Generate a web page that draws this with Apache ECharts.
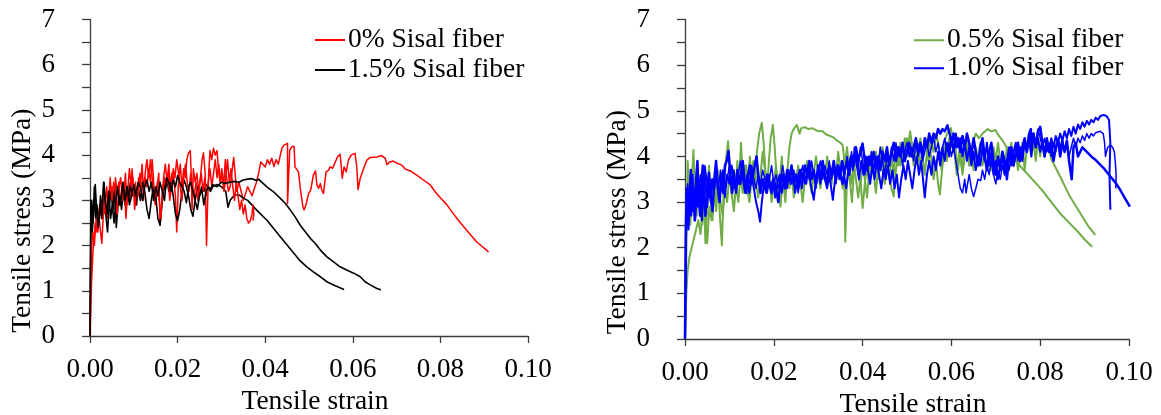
<!DOCTYPE html>
<html>
<head>
<meta charset="utf-8">
<script src="https://cdn.jsdelivr.net/npm/echarts@6/dist/echarts.min.js"></script>
<style>
  html, body { margin: 0; padding: 0; background: #fff; }
  #chart { width: 1161px; height: 415px; }
</style>
</head>
<body>
<div id="chart"></div>
<script>
// Axis titles and legend labels
const strainTitle = 'Tensile strain';
const stressTitle = 'Tensile stress (MPa)';
const leftLegend = ['0% Sisal fiber', '1.5% Sisal fiber'];
const rightLegend = ['0.5% Sisal fiber', '1.0% Sisal fiber'];

// Specimen curves, [strain, stress (MPa)]
// 0% sisal fiber
const plain0A = [[0,0],[0.0004,1.3],[0.0008,2.1],[0.0012,2.5],[0.0016,2.3],[0.002,2.7],[0.0023,2.4],[0.0027,2.05],[0.0031,2.8],[0.0035,3.0],[0.0039,2.6],[0.0043,3.2],[0.0046,3.1],[0.005,3.3],[0.0054,2.8],[0.0058,3.5],[0.0062,3.2],[0.0066,3.4],[0.0069,2.9],[0.0073,3.3],[0.0077,3.1],[0.0081,3.6],[0.0084,2.9],[0.0088,3.3],[0.0092,3.0],[0.0096,3.7],[0.010,3.1],[0.0104,3.4],[0.0107,2.9],[0.0111,3.5],[0.0115,3.3],[0.0119,3.8],[0.0122,3.2],[0.0126,3.6],[0.013,3.9],[0.0134,3.5],[0.0138,3.9],[0.0141,3.6],[0.0145,3.2],[0.0149,2.9],[0.0153,3.3],[0.0157,3.6],[0.016,2.45],[0.0164,3.0],[0.0168,3.5],[0.0172,3.8],[0.0176,3.4],[0.018,3.8],[0.0183,3.3],[0.0187,3.6],[0.0191,3.5],[0.0195,3.1],[0.0198,2.3],[0.0202,3.4],[0.0206,3.8],[0.021,3.3],[0.0214,3.7],[0.0218,3.5],[0.0221,3.9],[0.0225,4.05],[0.0229,4.1],[0.0231,3.6],[0.0233,2.8],[0.0236,3.7],[0.024,3.4],[0.0244,3.6],[0.0248,3.2],[0.0252,3.5],[0.0256,3.9],[0.0259,4.05],[0.0263,3.6],[0.0266,2.0],[0.0269,3.1],[0.0271,3.6],[0.0274,4.1],[0.0278,3.9],[0.0282,4.15],[0.0286,4.0],[0.029,4.1],[0.0294,3.6],[0.0297,3.4],[0.0301,3.7],[0.0305,3.3],[0.0309,3.9],[0.0312,3.5],[0.0316,3.2],[0.032,3.3],[0.0328,3.95],[0.0335,3.2],[0.034,3.4],[0.035,3.0],[0.036,3.3],[0.037,3.1],[0.038,3.4],[0.0385,3.6],[0.039,3.85],[0.040,3.74],[0.0405,3.9],[0.041,3.8],[0.0415,3.93],[0.042,3.75],[0.0425,3.9],[0.043,3.8],[0.0434,3.78],[0.0438,4.15],[0.0443,4.22],[0.0451,4.26],[0.0451,2.93],[0.0456,4.11],[0.0461,4.19],[0.0466,4.19],[0.0468,3.74],[0.0472,3.78],[0.0476,3.63],[0.048,3.27],[0.0486,2.86],[0.0489,2.79],[0.0494,2.93],[0.0499,3.15],[0.0504,3.23],[0.051,3.56],[0.0515,3.65],[0.0518,3.34],[0.0522,3.27],[0.0526,3.37],[0.0529,3.23],[0.0533,3.15],[0.0539,3.63],[0.0545,3.67],[0.0548,3.74],[0.0554,3.71],[0.056,3.85],[0.0565,3.96],[0.0571,4.02],[0.0576,3.49],[0.058,3.74],[0.0585,3.63],[0.059,3.89],[0.0596,4.0],[0.0605,4.04],[0.0609,3.74],[0.0612,3.24],[0.0617,3.49],[0.0621,3.52],[0.0626,3.74],[0.0632,3.89],[0.064,3.95],[0.0655,3.96],[0.0666,3.99],[0.0674,3.93],[0.0678,3.79],[0.0684,3.85],[0.0693,3.87],[0.0701,3.82],[0.0712,3.78],[0.072,3.69],[0.0731,3.65],[0.0746,3.56],[0.0761,3.45],[0.0777,3.34],[0.0788,3.19],[0.0799,3.07],[0.0815,2.90],[0.0826,2.75],[0.0841,2.56],[0.086,2.34],[0.0883,2.08],[0.091,1.86]];
const plain0B = [[0,0],[0.0003,1.9],[0.0006,2.3],[0.001,2.0],[0.0014,2.6],[0.0018,2.3],[0.0022,2.9],[0.0026,2.6],[0.003,3.1],[0.0034,2.7],[0.0038,3.3],[0.0042,2.9],[0.0046,3.5],[0.005,3.0],[0.0054,3.4],[0.0058,3.2],[0.0062,2.7],[0.0066,3.3],[0.007,3.5],[0.0074,3.0],[0.0078,3.4],[0.0082,2.6],[0.0086,3.2],[0.009,3.7],[0.0094,3.3],[0.0098,3.5],[0.0102,2.8],[0.0106,3.3],[0.011,3.1],[0.0114,3.6],[0.0118,3.2],[0.0122,3.0],[0.0126,3.5],[0.013,3.3],[0.0134,3.7],[0.0138,3.4],[0.0142,3.9],[0.0146,3.3],[0.015,3.1],[0.0154,3.4],[0.0158,3.0],[0.0162,2.6],[0.0166,3.2],[0.017,3.5],[0.0174,3.3],[0.0178,3.6],[0.0182,3.0],[0.0186,3.3],[0.019,3.7],[0.0194,3.5],[0.0198,3.9],[0.0202,3.6],[0.0206,3.3],[0.021,3.0],[0.0214,3.5],[0.0218,3.8],[0.0222,3.4],[0.0226,3.2],[0.023,3.6],[0.0234,3.3],[0.0238,3.1],[0.0242,3.4],[0.0246,3.0],[0.025,3.3],[0.0254,3.6],[0.0258,3.2],[0.0262,3.5],[0.0266,3.1],[0.027,3.4],[0.0274,3.7],[0.0278,3.3],[0.0282,3.6],[0.0286,3.9],[0.029,3.5],[0.0294,3.8],[0.0298,3.4],[0.0302,3.6],[0.0306,3.2],[0.031,3.5],[0.0314,3.9],[0.0318,3.4],[0.0322,3.7],[0.0326,3.3],[0.033,3.0],[0.0334,3.4],[0.0338,3.1],[0.0342,2.8],[0.0346,3.0],[0.035,2.7],[0.0354,2.9],[0.0358,2.6],[0.0362,2.5],[0.0366,2.55],[0.037,2.7],[0.0372,2.9],[0.0374,2.7],[0.0372,2.55]];
// 1.5% sisal fiber
const fiber15A = [[0,0],[0.0002,2.4],[0.0004,3.0],[0.0007,2.5],[0.001,3.3],[0.0013,2.6],[0.0016,2.9],[0.002,2.5],[0.0024,3.1],[0.0028,2.8],[0.0032,3.4],[0.0036,2.7],[0.004,2.3],[0.0044,2.9],[0.0048,3.2],[0.0052,2.8],[0.0056,3.3],[0.006,2.4],[0.0064,2.9],[0.0068,3.1],[0.0072,2.8],[0.0076,3.2],[0.008,2.9],[0.0084,3.3],[0.0088,3.0],[0.0092,3.4],[0.0096,3.1],[0.010,3.2],[0.0105,2.9],[0.011,3.3],[0.0115,3.0],[0.012,3.4],[0.0125,3.2],[0.013,2.8],[0.0135,2.6],[0.014,3.0],[0.0145,3.3],[0.015,3.1],[0.0155,2.6],[0.016,2.45],[0.0165,3.0],[0.017,3.3],[0.0175,3.5],[0.018,3.2],[0.0185,3.4],[0.019,3.1],[0.0195,2.7],[0.020,2.55],[0.0205,2.8],[0.021,3.2],[0.0215,3.45],[0.022,3.3],[0.0225,3.1],[0.023,2.8],[0.0235,2.65],[0.024,3.0],[0.0245,3.3],[0.025,3.1],[0.0255,3.3],[0.026,3.2],[0.0265,3.35],[0.027,3.3],[0.0275,3.2],[0.028,3.3],[0.029,3.35],[0.030,3.3],[0.031,3.2],[0.0315,2.85],[0.032,3.0],[0.033,3.12],[0.034,3.12],[0.035,3.05],[0.036,3.0],[0.038,2.79],[0.0404,2.56],[0.0434,2.2],[0.0457,1.93],[0.048,1.66],[0.0495,1.53],[0.051,1.42],[0.0526,1.31],[0.0541,1.2],[0.0556,1.13],[0.058,1.03]];
const fiber15B = [[0,0],[0.0002,3.0],[0.0005,2.3],[0.0008,2.7],[0.0012,3.35],[0.0015,2.8],[0.0019,2.4],[0.0023,2.9],[0.0027,2.6],[0.0031,3.4],[0.0035,3.0],[0.0039,2.7],[0.0043,3.2],[0.0047,2.6],[0.0051,2.9],[0.0055,2.5],[0.0059,3.0],[0.0063,3.3],[0.0067,2.9],[0.0071,3.0],[0.0075,3.4],[0.008,3.0],[0.0085,3.3],[0.009,2.9],[0.0095,3.1],[0.010,3.35],[0.0105,3.1],[0.011,3.4],[0.0115,3.3],[0.012,3.0],[0.0125,3.3],[0.013,3.45],[0.0135,3.2],[0.014,3.4],[0.0145,3.0],[0.015,3.3],[0.0155,3.1],[0.016,3.4],[0.0165,3.2],[0.017,3.0],[0.0175,3.5],[0.018,3.4],[0.0185,3.2],[0.019,3.45],[0.0195,3.3],[0.020,3.55],[0.0205,3.4],[0.021,3.3],[0.0215,3.2],[0.022,2.95],[0.0225,3.3],[0.023,3.4],[0.0235,3.2],[0.024,3.0],[0.0245,2.8],[0.025,3.1],[0.0255,3.25],[0.026,2.9],[0.0265,3.2],[0.027,3.3],[0.0275,3.25],[0.028,3.35],[0.029,3.3],[0.030,3.4],[0.031,3.38],[0.032,3.4],[0.033,3.42],[0.034,3.4],[0.035,3.45],[0.036,3.47],[0.037,3.48],[0.038,3.44],[0.0385,3.47],[0.039,3.42],[0.0404,3.3],[0.0419,3.19],[0.0434,3.05],[0.0446,2.93],[0.0457,2.79],[0.0468,2.64],[0.048,2.45],[0.0491,2.31],[0.0503,2.16],[0.0514,2.05],[0.0526,1.9],[0.0541,1.75],[0.0556,1.64],[0.0571,1.53],[0.0586,1.46],[0.0602,1.39],[0.0617,1.31],[0.0628,1.2],[0.064,1.13],[0.0655,1.05],[0.0664,1.02]];
// 0.5% sisal fiber
const fiber05A = [[0,0],[0.0002,1.2],[0.0004,2.6],[0.0006,3.9],[0.0009,3.2],[0.0012,2.5],[0.0015,3.4],[0.0019,4.14],[0.0022,3.3],[0.0026,2.7],[0.003,3.6],[0.0034,3.0],[0.0038,2.5],[0.0042,3.3],[0.0046,2.1],[0.005,2.9],[0.0054,3.8],[0.0058,3.1],[0.0062,2.6],[0.0066,3.5],[0.007,3.0],[0.0074,3.7],[0.0078,2.8],[0.0083,2.05],[0.0087,3.2],[0.0092,3.9],[0.0097,4.33],[0.0102,3.6],[0.0106,3.1],[0.011,3.7],[0.0114,3.3],[0.0118,3.9],[0.0122,3.4],[0.0126,4.3],[0.013,3.6],[0.0134,3.2],[0.0138,3.8],[0.0142,3.4],[0.0146,4.0],[0.015,3.5],[0.0154,3.9],[0.0158,3.3],[0.0162,4.1],[0.0167,4.5],[0.0173,4.74],[0.0177,4.3],[0.0181,3.7],[0.0185,3.3],[0.0189,3.9],[0.0193,4.4],[0.0198,4.69],[0.0202,4.2],[0.0206,3.6],[0.021,3.1],[0.0214,3.5],[0.0218,4.0],[0.0222,3.4],[0.0226,3.0],[0.023,3.6],[0.0235,4.2],[0.024,4.5],[0.0245,4.6],[0.0252,4.69],[0.0258,4.5],[0.0262,4.62],[0.027,4.64],[0.0278,4.6],[0.0286,4.62],[0.0294,4.58],[0.0302,4.55],[0.031,4.55],[0.0318,4.48],[0.0326,4.45],[0.0334,4.42],[0.0342,4.35],[0.035,4.3],[0.0355,4.25],[0.0358,4.0],[0.0361,2.13],[0.0364,3.3],[0.0368,3.8],[0.0372,3.4],[0.0376,3.0],[0.038,3.6],[0.0385,4.1],[0.039,3.7],[0.0395,3.3],[0.04,3.9],[0.0405,3.5],[0.041,3.1],[0.0415,3.7],[0.042,4.1],[0.0425,3.6],[0.043,3.2],[0.0435,3.8],[0.044,4.2],[0.0445,3.7],[0.045,3.4],[0.0455,3.9],[0.046,3.5],[0.0465,4.0],[0.047,3.6],[0.0475,4.2],[0.048,3.8],[0.0485,4.3],[0.049,3.9],[0.0495,4.4],[0.05,4.0],[0.0507,4.55],[0.0512,4.2],[0.0518,3.9],[0.0524,4.3],[0.053,3.8],[0.0536,4.2],[0.0542,4.4],[0.0548,3.9],[0.0554,4.3],[0.056,4.1],[0.0566,4.5],[0.0572,4.2],[0.0578,3.7],[0.0584,4.3],[0.059,4.5],[0.0599,4.62],[0.0606,4.2],[0.0612,3.6],[0.0618,4.1],[0.0624,3.7],[0.063,4.2],[0.0636,4.45],[0.0642,4.0],[0.0648,4.3],[0.0655,4.5],[0.0662,4.4],[0.067,4.5],[0.0682,4.6],[0.069,4.55],[0.0699,4.58],[0.0707,4.45],[0.0715,4.35],[0.0725,4.19],[0.0735,4.05],[0.0745,3.9],[0.0765,3.68],[0.0785,3.47],[0.0805,3.25],[0.0825,3.0],[0.0845,2.75],[0.0865,2.55],[0.0885,2.35],[0.09,2.18],[0.0917,2.02]];
const fiber05B = [[0,0],[0.0003,1.0],[0.0006,1.5],[0.001,1.8],[0.0015,2.0],[0.002,2.2],[0.0025,2.4],[0.003,2.6],[0.0035,2.3],[0.004,2.8],[0.0045,2.5],[0.005,2.1],[0.0055,2.9],[0.006,2.6],[0.0065,3.2],[0.007,2.8],[0.0075,3.4],[0.008,3.0],[0.0085,2.7],[0.009,3.3],[0.0095,3.0],[0.010,3.6],[0.0105,3.2],[0.011,2.8],[0.0115,3.4],[0.012,3.0],[0.0125,3.6],[0.013,3.2],[0.0135,3.8],[0.014,3.3],[0.0145,3.0],[0.015,3.5],[0.0155,3.9],[0.016,3.4],[0.0165,3.1],[0.017,3.6],[0.0175,4.1],[0.018,3.7],[0.0185,3.2],[0.019,3.6],[0.0195,3.0],[0.020,3.4],[0.0205,3.8],[0.021,3.3],[0.0215,2.9],[0.022,3.5],[0.0225,3.2],[0.023,3.7],[0.0235,3.3],[0.024,3.6],[0.0245,3.1],[0.025,3.5],[0.0255,3.8],[0.026,3.4],[0.0265,3.0],[0.027,3.5],[0.0275,3.9],[0.028,3.5],[0.0285,3.2],[0.029,3.6],[0.0295,4.0],[0.030,3.6],[0.0305,3.3],[0.031,3.8],[0.0315,3.5],[0.032,4.0],[0.0325,3.7],[0.033,3.4],[0.0335,3.9],[0.034,3.6],[0.0345,4.1],[0.035,3.7],[0.0355,3.3],[0.036,3.8],[0.0365,4.2],[0.037,3.7],[0.0375,3.4],[0.038,3.9],[0.0385,3.5],[0.039,3.1],[0.0395,3.5],[0.040,2.87],[0.0405,3.4],[0.041,3.8],[0.0415,3.4],[0.042,4.0],[0.0425,3.6],[0.043,4.1],[0.0435,3.5],[0.044,3.9],[0.0445,4.2],[0.045,3.7],[0.0455,4.1],[0.046,3.6],[0.0465,3.3],[0.047,3.12],[0.0475,3.7],[0.048,4.1],[0.0485,3.8],[0.049,4.3],[0.0495,3.9],[0.050,4.4],[0.0505,4.0],[0.051,4.3],[0.0515,3.8],[0.052,4.2],[0.0525,3.9],[0.053,4.4],[0.0535,4.0],[0.054,3.6],[0.0545,4.1],[0.055,4.4],[0.0555,3.9],[0.056,3.5],[0.0565,3.9],[0.057,3.4],[0.0574,3.17],[0.058,3.8],[0.0585,4.2],[0.059,3.9],[0.0595,4.4],[0.060,4.2],[0.0605,4.5],[0.061,4.1],[0.0615,3.7],[0.062,4.2],[0.0625,3.6],[0.063,4.0],[0.0635,4.3],[0.064,3.8],[0.0645,4.1],[0.065,3.7],[0.0655,4.2],[0.066,3.9],[0.0665,4.3],[0.067,3.8],[0.0675,4.1],[0.068,3.7],[0.0685,4.0],[0.069,3.7],[0.0695,4.2],[0.070,3.9],[0.0705,4.3],[0.071,3.9],[0.0715,4.1],[0.072,3.8],[0.0725,4.2],[0.073,3.9],[0.0735,4.3],[0.074,3.8],[0.0745,4.1],[0.075,3.7],[0.0755,4.0],[0.076,4.3],[0.0765,3.7],[0.077,4.2],[0.0775,4.5],[0.078,4.0],[0.0785,4.3],[0.079,3.9],[0.0795,4.4],[0.080,4.0],[0.0805,4.35],[0.081,4.1],[0.0815,4.29],[0.0826,3.92],[0.0845,3.56],[0.0867,3.12],[0.089,2.76],[0.0909,2.46],[0.0924,2.28]];
// 1.0% sisal fiber
const fiber10A = [[0,0],[0.0002,2.5],[0.0004,3.3],[0.0007,2.6],[0.001,3.05],[0.0013,3.7],[0.0016,2.8],[0.0019,3.3],[0.0022,2.6],[0.0025,3.5],[0.0028,3.9],[0.0031,3.1],[0.0034,2.7],[0.0037,3.4],[0.004,3.8],[0.0043,3.0],[0.0046,2.7],[0.005,3.3],[0.0054,3.64],[0.0058,3.1],[0.0062,2.8],[0.0066,3.5],[0.007,3.9],[0.0074,3.3],[0.0078,3.0],[0.0082,3.6],[0.0086,3.2],[0.009,3.8],[0.0094,3.9],[0.0098,4.12],[0.0102,3.6],[0.0106,3.2],[0.011,3.5],[0.0114,3.3],[0.0118,3.7],[0.0122,3.4],[0.0126,3.6],[0.013,3.9],[0.0134,3.5],[0.0138,3.2],[0.0142,3.6],[0.0146,3.8],[0.015,3.4],[0.0155,3.7],[0.0161,4.0],[0.0166,3.5],[0.017,3.2],[0.0175,3.5],[0.018,3.3],[0.0185,3.6],[0.019,3.4],[0.0195,3.2],[0.020,3.5],[0.0205,3.3],[0.021,3.0],[0.0215,3.4],[0.022,3.6],[0.0225,3.3],[0.023,3.7],[0.0235,3.5],[0.024,3.8],[0.0245,3.4],[0.025,3.6],[0.0255,3.3],[0.026,3.7],[0.0265,3.5],[0.027,3.8],[0.0275,3.6],[0.028,3.9],[0.0285,3.5],[0.029,3.7],[0.0295,3.4],[0.030,3.8],[0.0305,3.5],[0.031,3.9],[0.0315,3.6],[0.032,3.4],[0.0325,3.8],[0.033,3.6],[0.0335,3.9],[0.034,3.5],[0.0345,3.8],[0.035,3.6],[0.0355,3.4],[0.036,3.7],[0.0365,3.9],[0.037,3.6],[0.0375,4.0],[0.038,3.8],[0.0385,4.2],[0.039,3.9],[0.0395,4.1],[0.040,4.28],[0.0405,3.9],[0.041,3.7],[0.0415,4.0],[0.042,3.8],[0.0425,4.1],[0.043,3.8],[0.0435,4.0],[0.044,3.7],[0.0445,4.1],[0.045,3.9],[0.0455,4.2],[0.046,3.8],[0.0465,4.1],[0.047,4.3],[0.0475,3.9],[0.048,4.2],[0.0485,4.0],[0.049,4.3],[0.0495,3.9],[0.050,4.1],[0.0505,4.3],[0.051,4.0],[0.0515,4.2],[0.052,4.4],[0.0525,4.1],[0.053,4.3],[0.0535,4.0],[0.054,4.4],[0.0545,4.2],[0.055,4.5],[0.0555,4.3],[0.056,4.5],[0.0565,4.4],[0.057,4.6],[0.0575,4.5],[0.058,4.6],[0.0585,4.55],[0.0591,4.68],[0.0596,4.5],[0.060,4.3],[0.0605,4.5],[0.061,4.2],[0.0615,4.4],[0.062,4.1],[0.0625,4.45],[0.063,4.2],[0.0635,4.5],[0.064,4.3],[0.0645,4.0],[0.065,4.4],[0.0655,4.1],[0.066,3.8],[0.0665,4.2],[0.067,4.4],[0.0675,4.0],[0.068,3.7],[0.0685,4.1],[0.069,4.3],[0.0695,3.9],[0.070,3.6],[0.0705,4.0],[0.071,3.7],[0.0715,4.1],[0.072,3.9],[0.0725,3.5],[0.073,4.0],[0.0735,4.2],[0.074,3.8],[0.0745,4.1],[0.075,4.3],[0.0755,3.9],[0.076,4.2],[0.0765,4.4],[0.077,4.1],[0.0775,4.5],[0.0779,4.6],[0.078,4.3],[0.0785,4.5],[0.079,4.2],[0.0795,4.55],[0.080,4.65],[0.0805,4.3],[0.081,4.0],[0.0815,4.4],[0.082,4.1],[0.0825,4.3],[0.083,3.9],[0.0835,4.2],[0.084,4.35],[0.0845,4.0],[0.085,4.3],[0.0855,4.1],[0.086,4.35],[0.0865,3.9],[0.0871,3.5],[0.0875,4.2],[0.088,4.3],[0.0885,4.0],[0.0895,4.2],[0.0905,4.1],[0.0915,4.0],[0.0925,3.92],[0.0935,3.82],[0.0945,3.72],[0.0958,3.56],[0.097,3.42],[0.098,3.27],[0.099,3.1],[0.1002,2.9]];
const fiber10B = [[0,0],[0.0002,2.2],[0.0005,2.9],[0.0008,2.4],[0.0011,3.2],[0.0014,2.7],[0.0017,3.6],[0.002,3.0],[0.0023,2.6],[0.0026,3.3],[0.0029,2.9],[0.0032,3.5],[0.0035,3.1],[0.0038,2.6],[0.0041,3.2],[0.0044,3.7],[0.0047,3.3],[0.005,2.9],[0.0054,3.4],[0.0058,3.0],[0.0062,3.5],[0.0066,3.3],[0.007,3.7],[0.0074,3.4],[0.0078,3.1],[0.0082,3.5],[0.0086,3.7],[0.009,3.3],[0.0095,3.6],[0.010,3.4],[0.0105,3.8],[0.011,3.5],[0.0115,3.2],[0.012,3.6],[0.0125,3.4],[0.013,3.7],[0.0135,3.3],[0.014,3.5],[0.0145,3.2],[0.015,3.6],[0.0155,3.3],[0.016,3.0],[0.0165,2.8],[0.0169,2.57],[0.0173,3.0],[0.0178,3.4],[0.0183,3.2],[0.0188,3.6],[0.0193,3.3],[0.0198,3.5],[0.0203,3.1],[0.0208,3.4],[0.0213,3.6],[0.0218,3.2],[0.0223,3.5],[0.0228,3.3],[0.0233,3.7],[0.0238,3.4],[0.0243,3.6],[0.0248,3.2],[0.0253,3.5],[0.0258,3.7],[0.0263,3.3],[0.0268,3.6],[0.0273,3.4],[0.0278,3.8],[0.0283,3.4],[0.029,3.05],[0.0295,3.5],[0.030,3.7],[0.0305,3.4],[0.031,3.8],[0.0315,3.5],[0.032,3.3],[0.0325,3.6],[0.0333,3.05],[0.0338,3.5],[0.0343,3.8],[0.0348,3.5],[0.0353,3.9],[0.0358,3.6],[0.0363,3.3],[0.0368,3.7],[0.0373,4.0],[0.0378,3.7],[0.0382,4.2],[0.0387,3.8],[0.0392,3.5],[0.0397,3.9],[0.0402,3.6],[0.0407,4.0],[0.0412,3.7],[0.0417,3.4],[0.0422,3.8],[0.0427,3.5],[0.0432,3.9],[0.0437,3.6],[0.0442,3.3],[0.0447,3.7],[0.0452,3.5],[0.0457,3.8],[0.0462,3.4],[0.0467,3.7],[0.0472,3.3],[0.0477,3.6],[0.0482,3.1],[0.0487,3.5],[0.0492,3.8],[0.0497,3.5],[0.0502,3.9],[0.0507,3.6],[0.0512,3.3],[0.0517,3.7],[0.0522,4.0],[0.0527,3.6],[0.0532,3.9],[0.0537,3.4],[0.054,3.1],[0.0545,3.6],[0.055,3.9],[0.0555,3.6],[0.056,4.0],[0.0565,3.7],[0.057,4.1],[0.0575,3.8],[0.058,4.2],[0.0585,3.9],[0.059,4.3],[0.0595,4.0],[0.060,4.4],[0.0605,4.1],[0.061,4.5],[0.0615,4.2],[0.062,4.4],[0.0625,4.0],[0.063,4.3],[0.0635,3.9],[0.064,4.2],[0.0645,3.8],[0.065,4.1],[0.0655,3.7],[0.066,4.0],[0.0665,3.8],[0.067,4.2],[0.0675,3.9],[0.068,4.3],[0.0685,3.8],[0.069,4.1],[0.0695,3.6],[0.070,3.9],[0.0705,3.5],[0.071,3.8],[0.0715,4.0],[0.072,3.6],[0.0725,3.9],[0.073,4.2],[0.0735,3.8],[0.074,4.1],[0.0745,4.3],[0.075,4.0],[0.0755,4.2],[0.076,3.9],[0.0765,4.3],[0.077,4.1],[0.0775,4.4],[0.078,4.0],[0.0785,4.5],[0.079,4.2],[0.0795,4.4],[0.080,4.1],[0.0805,4.35],[0.081,4.0],[0.0815,4.3],[0.082,4.1],[0.0825,4.4],[0.083,4.2],[0.0835,4.45],[0.084,4.3],[0.0845,4.5],[0.085,4.35],[0.0855,4.55],[0.086,4.4],[0.0865,4.6],[0.087,4.45],[0.0875,4.65],[0.088,4.5],[0.0885,4.7],[0.089,4.6],[0.0895,4.75],[0.090,4.65],[0.0905,4.78],[0.091,4.7],[0.0915,4.8],[0.092,4.75],[0.0925,4.85],[0.093,4.8],[0.0935,4.88],[0.0943,4.91],[0.095,4.88],[0.0955,4.8],[0.0958,4.3],[0.0956,3.6],[0.0958,2.83]];
const fiber10C = [[0,0],[0.0003,2.8],[0.0006,3.4],[0.001,2.9],[0.0014,3.6],[0.0018,3.2],[0.0022,2.7],[0.0026,3.3],[0.003,3.0],[0.0035,3.6],[0.004,3.3],[0.0045,3.8],[0.005,3.4],[0.0055,3.1],[0.006,3.5],[0.0065,3.2],[0.007,3.6],[0.0075,3.3],[0.008,3.7],[0.0085,3.4],[0.009,3.1],[0.0095,3.5],[0.010,3.8],[0.0105,3.4],[0.011,3.7],[0.0115,3.3],[0.012,3.6],[0.0125,3.9],[0.013,3.5],[0.0135,3.2],[0.014,3.6],[0.0145,3.4],[0.015,3.8],[0.0155,3.5],[0.016,3.3],[0.0165,3.6],[0.017,3.4],[0.0175,3.7],[0.018,3.5],[0.0185,3.2],[0.019,3.5],[0.0195,3.8],[0.020,3.4],[0.0205,3.6],[0.021,3.3],[0.0215,3.5],[0.022,3.8],[0.0225,3.5],[0.023,3.3],[0.0235,3.6],[0.024,3.4],[0.0245,3.7],[0.025,3.5],[0.0255,3.2],[0.026,3.6],[0.0265,3.8],[0.027,3.4],[0.0275,3.7],[0.028,3.5],[0.0285,3.9],[0.029,3.6],[0.0295,3.3],[0.030,3.7],[0.0305,3.9],[0.031,3.5],[0.0315,3.8],[0.032,3.6],[0.0325,3.9],[0.033,3.5],[0.0335,3.7],[0.034,3.4],[0.0345,3.8],[0.035,3.5],[0.0355,3.9],[0.036,3.6],[0.0365,4.0],[0.037,3.7],[0.0375,4.1],[0.038,3.8],[0.0385,4.0],[0.039,3.7],[0.0395,4.2],[0.040,3.9],[0.0405,3.6],[0.041,4.0],[0.0415,3.8],[0.042,4.1],[0.0425,3.7],[0.043,4.0],[0.0435,3.8],[0.044,4.2],[0.0445,3.9],[0.045,3.6],[0.0455,4.0],[0.046,3.8],[0.0465,4.2],[0.047,3.9],[0.0475,4.3],[0.048,4.0],[0.0485,4.2],[0.049,3.8],[0.0495,4.1],[0.050,4.3],[0.0505,4.0],[0.051,4.2],[0.0515,3.9],[0.052,4.3],[0.0525,4.0],[0.053,4.2],[0.0535,3.9],[0.054,4.1],[0.0545,4.3],[0.055,4.0],[0.0555,4.2],[0.056,4.4],[0.0565,4.1],[0.057,4.3],[0.0575,4.0],[0.058,4.2],[0.0585,4.4],[0.059,4.1],[0.0595,4.3],[0.060,4.0],[0.0605,4.2],[0.061,3.9],[0.0615,3.6],[0.062,3.3],[0.0625,3.2],[0.063,3.5],[0.0633,3.2],[0.064,3.6],[0.0645,3.3],[0.065,3.12],[0.0655,3.3],[0.066,3.5],[0.0666,3.47],[0.067,3.7],[0.0675,3.5],[0.068,3.8],[0.0685,3.6],[0.069,3.9],[0.0695,3.6],[0.070,3.4],[0.0705,3.7],[0.071,3.5],[0.0715,3.8],[0.072,3.6],[0.0725,3.9],[0.073,3.7],[0.0735,4.0],[0.074,3.8],[0.0745,4.1],[0.075,3.9],[0.0755,4.2],[0.076,4.0],[0.0765,4.3],[0.077,4.1],[0.0775,4.4],[0.078,4.2],[0.0785,4.5],[0.079,4.3],[0.0795,4.6],[0.080,4.4],[0.0805,4.2],[0.081,4.4],[0.0815,4.1],[0.082,4.3],[0.0825,4.0],[0.083,4.3],[0.0835,4.1],[0.084,4.4],[0.0845,4.2],[0.085,4.4],[0.0855,4.1],[0.086,4.3],[0.0865,4.0],[0.087,4.2],[0.0875,4.4],[0.088,4.2],[0.0885,4.4],[0.089,4.3],[0.0895,4.45],[0.090,4.35],[0.0905,4.5],[0.091,4.4],[0.0915,4.5],[0.092,4.45],[0.0925,4.52],[0.0935,4.55],[0.0942,4.5],[0.0945,4.3],[0.0947,4.0],[0.0952,4.2],[0.0958,4.25],[0.0963,4.2],[0.0967,4.1],[0.0969,3.9],[0.0971,3.6],[0.097,3.3]];

const FONT = "'Liberation Serif', 'Times New Roman', serif";
const AXIS_COLOR = '#3c3c3c';
const COLORS = { red: '#ff0000', black: '#000000', green: '#70ad47', blue: '#0000ff' };

function strainAxis(gridIndex) {
  return {
    gridIndex, type: 'value', min: 0, max: 0.1, interval: 0.02,
    axisLine: { onZero: false, lineStyle: { color: AXIS_COLOR, width: 1.3 } },
    axisTick: { show: true, inside: false, length: 7, lineStyle: { color: AXIS_COLOR, width: 1.3 } },
    axisLabel: { formatter: v => v.toFixed(2), fontFamily: FONT, fontSize: 27, color: '#000', margin: 20,
                 showMinLabel: true, showMaxLabel: true },
    splitLine: { show: false },
    name: strainTitle, nameLocation: 'middle', nameGap: 44,
    nameTextStyle: { fontFamily: FONT, fontSize: 27.5, color: '#000', padding: [0, 0, 0, 12] }
  };
}

function stressAxis(gridIndex) {
  return {
    gridIndex, type: 'value', min: 0, max: 7, interval: 0.5,
    axisLine: { show: true, onZero: false, lineStyle: { color: AXIS_COLOR, width: 1.3 } },
    axisTick: { show: true, inside: false, length: 8, lineStyle: { color: AXIS_COLOR, width: 1.3 } },
    axisLabel: { formatter: v => (Math.abs(v - Math.round(v)) < 1e-9 ? String(Math.round(v)) : ''),
                 fontFamily: FONT, fontSize: 27, color: '#000', margin: 35 },
    splitLine: { show: false },
    name: stressTitle, nameLocation: 'middle', nameGap: 53,
    nameTextStyle: { fontFamily: FONT, fontSize: 27.5, color: '#000', padding: [0, 86, 0, 0] }
  };
}

function curve(name, data, color, width, axisIndex) {
  return {
    name, type: 'line', data, xAxisIndex: axisIndex, yAxisIndex: axisIndex,
    showSymbol: false, symbol: 'none', smooth: false, color,
    lineStyle: { color, width, join: 'round' },
    emphasis: { disabled: true }, z: 2
  };
}

function legendBox(names, left, rowHeight) {
  return {
    data: names, orient: 'vertical', left, top: 40 - rowHeight / 2, padding: 0,
    icon: 'rect', itemWidth: 30, itemHeight: 2, itemGap: 0,
    textStyle: { fontFamily: FONT, fontSize: 27.5, color: '#000', lineHeight: rowHeight, padding: [0, 0, 0, -2] }
  };
}

const chart = echarts.init(document.getElementById('chart'), null, { renderer: 'canvas' });
chart.setOption({
  animation: false,
  backgroundColor: '#fff',
  grid: [
    { left: 90, right: 633, top: 19.5, bottom: 79, outerBoundsMode: 'none', containLabel: false },
    { left: 685, right: 32, top: 19.5, bottom: 76, outerBoundsMode: 'none', containLabel: false }
  ],
  xAxis: [strainAxis(0), strainAxis(1)],
  yAxis: [stressAxis(0), stressAxis(1)],
  legend: [legendBox(leftLegend, 315, 30), legendBox(rightLegend, 914, 27.5)],
  series: [
    curve(leftLegend[0], plain0A, COLORS.red, 1.5, 0),
    curve(leftLegend[1], fiber15A, COLORS.black, 1.6, 0),
    curve(leftLegend[0], plain0B, COLORS.red, 1.5, 0),
    curve(leftLegend[1], fiber15B, COLORS.black, 1.6, 0),
    curve(rightLegend[0], fiber05A, COLORS.green, 2, 1),
    curve(rightLegend[0], fiber05B, COLORS.green, 2, 1),
    curve(rightLegend[1], fiber10C, COLORS.blue, 1.5, 1),
    curve(rightLegend[1], fiber10B, COLORS.blue, 2, 1),
    curve(rightLegend[1], fiber10A, COLORS.blue, 2.5, 1)
  ]
});
</script>
</body>
</html>
